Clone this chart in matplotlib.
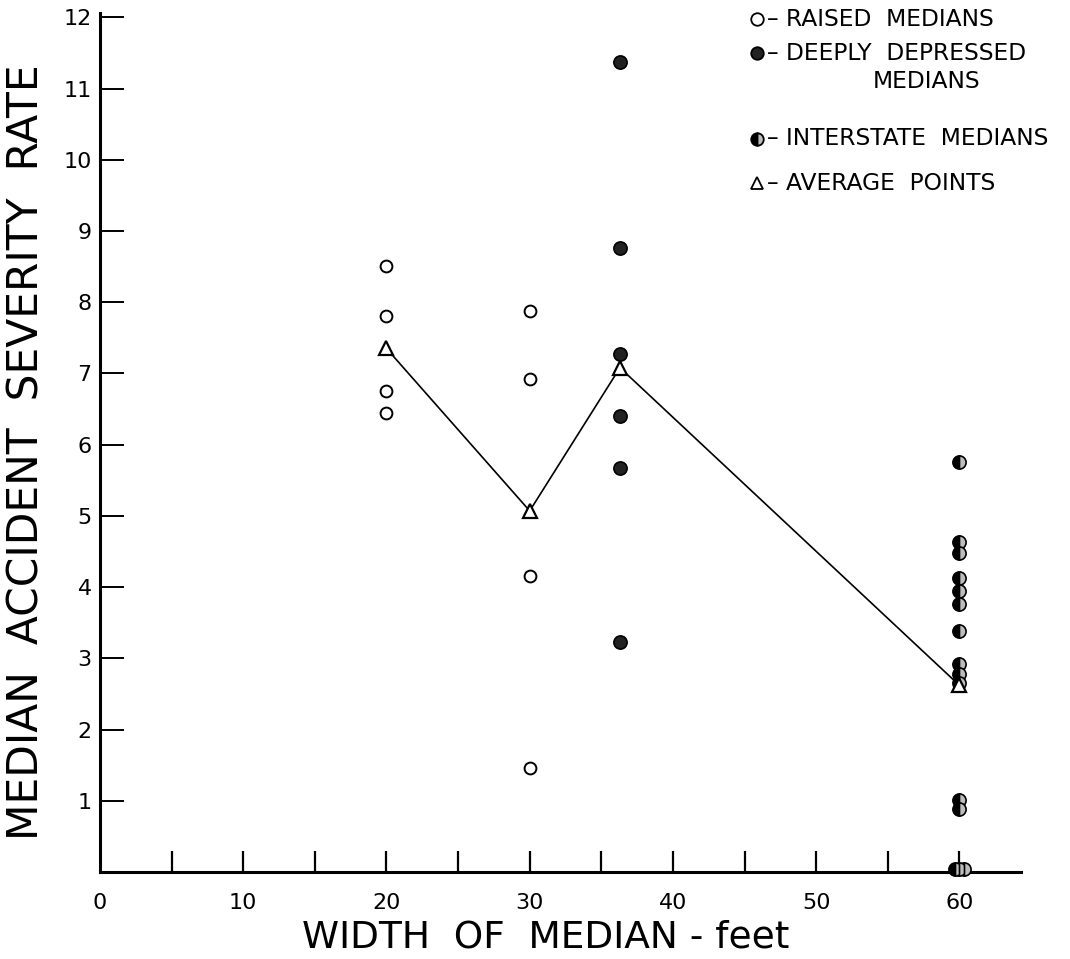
import matplotlib
matplotlib.use("Agg")
import matplotlib.pyplot as plt

# raised medians (open circles)
raised_x = [20, 20, 20, 20, 30, 30, 30, 30]
raised_y = [8.51, 7.81, 6.76, 6.45, 7.87, 6.92, 4.16, 1.46]

# deeply depressed medians (filled circles)
deep_x = [36.3, 36.3, 36.3, 36.3, 36.3, 36.3]
deep_y = [11.37, 8.76, 7.27, 6.40, 5.67, 3.23]

# interstate medians (half filled circles)
inter_x = [60, 60, 60, 60, 60, 60, 60, 60, 60, 60, 60, 60, 59.7, 60, 60.3]
inter_y = [5.75, 4.64, 4.48, 4.13, 3.94, 3.76, 3.39, 2.92, 2.78, 2.66,
           1.01, 0.88, 0.04, 0.04, 0.04]

# average points (triangles joined by line)
avg_x = [20, 30, 36.3, 60]
avg_y = [7.35, 5.07, 7.08, 2.62]

xticks_major = [0, 10, 20, 30, 40, 50, 60]
xticks_minor = [5, 15, 25, 35, 45, 55]
yticks = list(range(1, 13))

W, H = 1070, 959
fig = plt.figure(figsize=(W / 100, H / 100), dpi=100)
ax = fig.add_axes([100 / W, (H - 872) / H, (1021 - 100) / W, (872 - 13) / H])

ax.plot(avg_x, avg_y, color='black', lw=1.2, zorder=2)
ax.plot(raised_x, raised_y, 'o', ms=8.5, mfc='white', mec='black', mew=1.4,
        ls='none', zorder=3, clip_on=False)
ax.plot(deep_x, deep_y, 'o', ms=9.5, mfc='#222222', mec='black', mew=1.2,
        ls='none', zorder=3, clip_on=False)
ax.plot(inter_x, inter_y, 'o', ms=9.5, fillstyle='left', mfc='black',
        mfcalt='#bdbdbd', mec='black', mew=1.2, ls='none', zorder=3,
        clip_on=False)
ax.plot(avg_x, avg_y, '^', ms=10, mfc='white', mec='black', mew=1.6,
        ls='none', zorder=4, clip_on=False)

ax.set_xlim(0, 64.3)
ax.set_ylim(0, 12.06)
for s in ['top', 'right']:
    ax.spines[s].set_visible(False)
for s in ['left', 'bottom']:
    ax.spines[s].set_linewidth(2.2)

ax.set_xticks([t for t in xticks_major if t > 0] + xticks_minor)
ax.set_xticklabels([str(t) for t in xticks_major if t > 0] + [''] * len(xticks_minor))
ax.set_yticks(yticks)
ax.set_yticklabels([str(t) for t in yticks])
ax.tick_params(axis='x', direction='in', length=15, width=1.6, pad=15, labelsize=16)
ax.tick_params(axis='y', direction='in', length=17, width=1.4, pad=6, labelsize=16)
# "0" label at the origin
ax.text(0, -0.3, '0', ha='center', va='top', fontsize=16)

fig.text(546 / W, 1 - 938 / H, 'WIDTH  OF  MEDIAN - feet', ha='center', va='center',
         fontsize=27)
fig.text(27 / W, 1 - 452 / H, 'MEDIAN  ACCIDENT  SEVERITY  RATE', ha='center',
         va='center', rotation=90, fontsize=30.5)

# legend drawn by hand
leg = [
    (19, 'o', 'white', None, '– RAISED  MEDIANS'),
    (53, 'o', '#222222', None, '– DEEPLY  DEPRESSED'),
    (139, 'o', 'black', 'left', '– INTERSTATE  MEDIANS'),
    (183, '^', 'white', None, '– AVERAGE  POINTS'),
]
for yp, m, fc, fs, label in leg:
    kw = dict(marker=m, ms=9, mfc=fc, mec='black', mew=1.3, ls='none',
              transform=fig.transFigure, clip_on=False)
    if fs:
        kw.update(fillstyle=fs, mfcalt='#bdbdbd')
    ax.plot([757 / W], [1 - yp / H], **kw)
    fig.text(767 / W, 1 - yp / H, label, ha='left', va='center', fontsize=16.8)
fig.text(927 / W, 1 - 81 / H, 'MEDIANS', ha='center', va='center', fontsize=16.8)

fig.savefig('out.png', dpi=100)
